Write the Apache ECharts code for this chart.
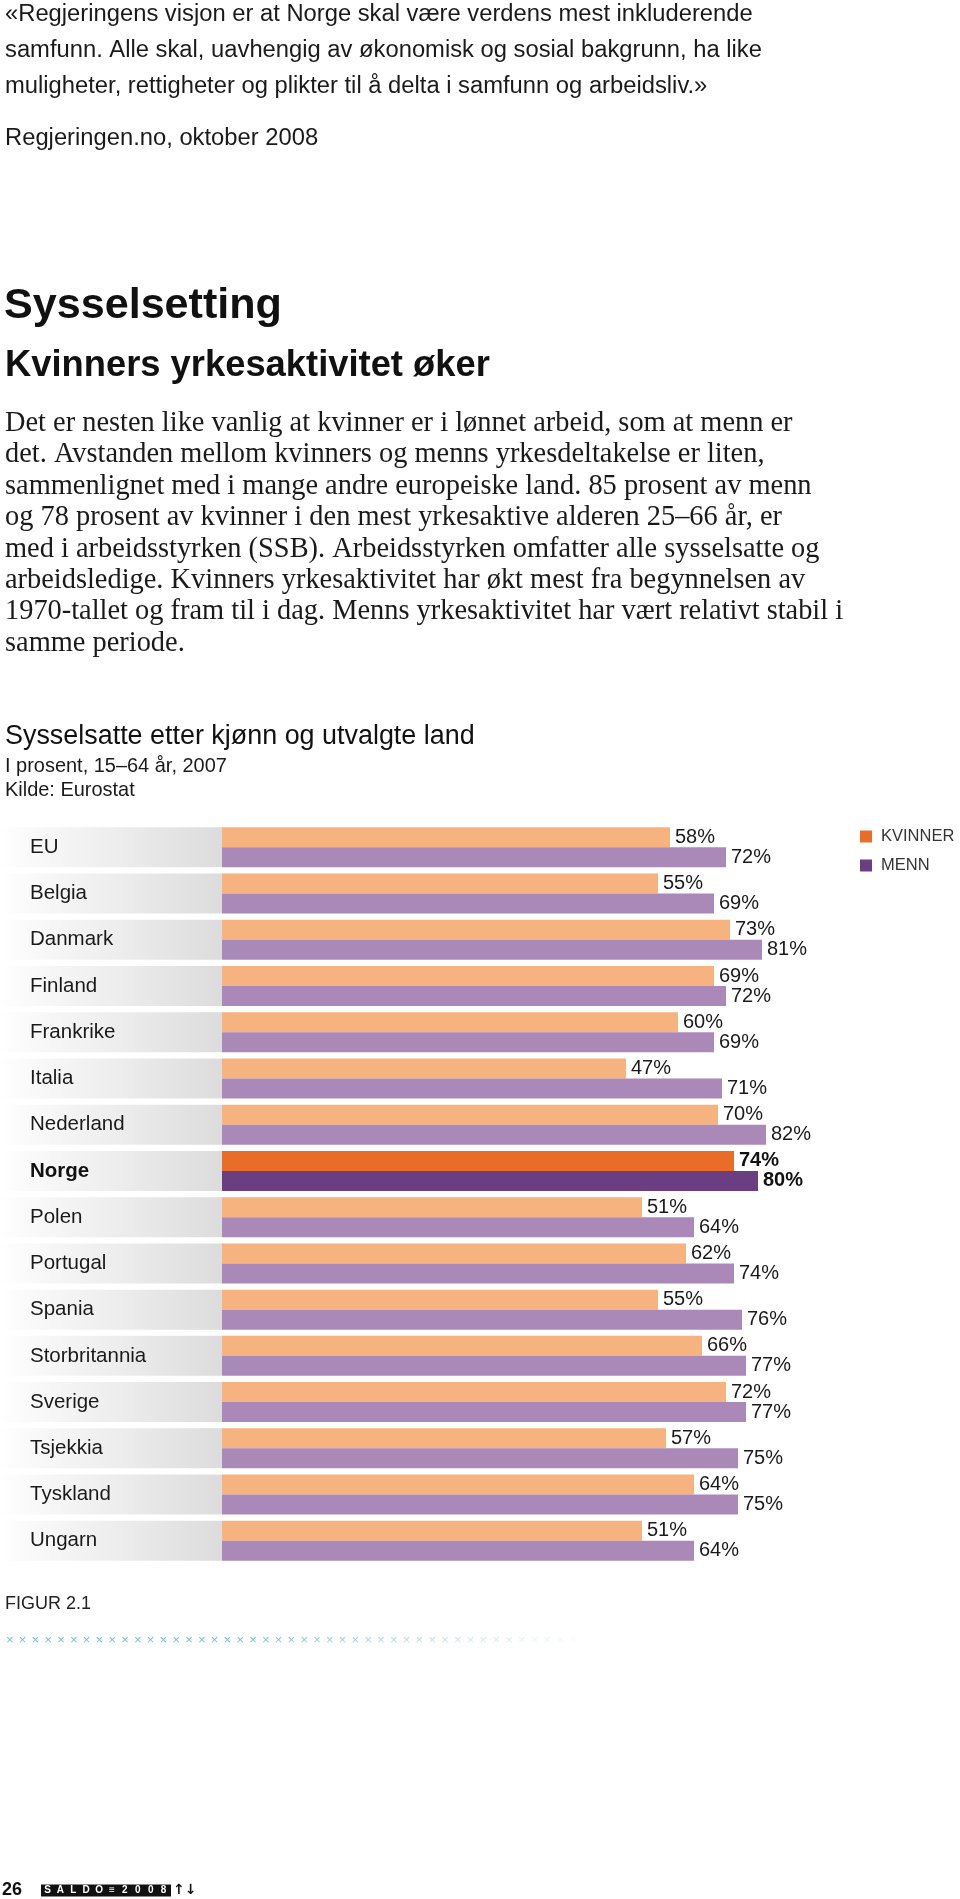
<!DOCTYPE html>
<html>
<head>
<meta charset="utf-8">
<script src="https://cdn.jsdelivr.net/npm/echarts@6/dist/echarts.min.js"></script>
<style>
html,body{margin:0;padding:0;background:#ffffff;}
#c{width:960px;height:1899px;}
</style>
</head>
<body>
<div id="c"></div>
<script>
// ---------- data ----------
const categories = ['EU','Belgia','Danmark','Finland','Frankrike','Italia','Nederland','Norge','Polen','Portugal','Spania','Storbritannia','Sverige','Tsjekkia','Tyskland','Ungarn'];
const kvinner = [58,55,73,69,60,47,70,74,51,62,55,66,72,57,64,51];
const menn    = [72,69,81,72,69,71,82,80,64,74,76,77,77,75,75,64];
const seriesNames = ['KVINNER','MENN'];
const highlight = 'Norge';

// ---------- texts ----------
const quoteLines = [
  '«Regjeringens visjon er at Norge skal være verdens mest inkluderende',
  'samfunn. Alle skal, uavhengig av økonomisk og sosial bakgrunn, ha like',
  'muligheter, rettigheter og plikter til å delta i samfunn og arbeidsliv.»'
];
const quoteSource = 'Regjeringen.no, oktober 2008';
const heading = 'Sysselsetting';
const subheading = 'Kvinners yrkesaktivitet øker';
const bodyLines = [
  'Det er nesten like vanlig at kvinner er i lønnet arbeid, som at menn er',
  'det. Avstanden mellom kvinners og menns yrkesdeltakelse er liten,',
  'sammenlignet med i mange andre europeiske land. 85 prosent av menn',
  'og 78 prosent av kvinner i den mest yrkesaktive alderen 25–66 år, er',
  'med i arbeidsstyrken (SSB). Arbeidsstyrken omfatter alle sysselsatte og',
  'arbeidsledige. Kvinners yrkesaktivitet har økt mest fra begynnelsen av',
  '1970-tallet og fram til i dag. Menns yrkesaktivitet har vært relativt stabil i',
  'samme periode.'
];
const chartTitle = 'Sysselsatte etter kjønn og utvalgte land';
const chartSubtitle = 'I prosent, 15–64 år, 2007';
const chartSource = 'Kilde: Eurostat';
const figureLabel = 'FIGUR 2.1';
const pageNumber = '26';
const footerMark = ['S','A','L','D','O','≡','2','0','0','8'];

// ---------- styling ----------
const SANS = "'Liberation Sans', Arial, sans-serif";
const SERIF = "'Liberation Serif', 'Times New Roman', serif";
const COL = {
  wLight:'#F6B27F', mLight:'#AA88B8',
  wDark:'#E96D28', mDark:'#6A3E80',
  text:'#1a1a1a'
};

const mctx = document.createElement('canvas').getContext('2d');
function fitSize(text, family, weight, target){
  mctx.font = weight + ' 100px ' + family;
  return 100 * target / mctx.measureText(text).width;
}
function txt(text, x, y, size, family, weight, color, opacity){
  return {type:'text', x:x, y:y, silent:true, z:10,
    style:{text:text, fontSize:size, fontFamily:family, fontWeight:weight,
      fill:color, align:'left', verticalAlign:'middle', opacity: opacity==null?1:opacity}};
}

const quoteSize = fitSize(quoteLines[0], SANS, 'normal', 748);
const headSize = fitSize(heading, SANS, 'bold', 278);
const subSize = fitSize(subheading, SANS, 'bold', 485);
const bodySize = fitSize(bodyLines[0], SERIF, 'normal', 788);
const ctSize = fitSize(chartTitle, SANS, 'normal', 470);
const csSize = fitSize(chartSubtitle, SANS, 'normal', 222);

const graphics = [];
const quoteY = [14.5, 50.8, 86];
quoteLines.forEach((l,i)=>graphics.push(txt(l, 5, quoteY[i], quoteSize, SANS, 'normal', COL.text)));
graphics.push(txt(quoteSource, 5, 138.5, quoteSize, SANS, 'normal', COL.text));
graphics.push(txt(heading, 4, 306, headSize, SANS, 'bold', '#111'));
graphics.push(txt(subheading, 5, 366, subSize, SANS, 'bold', '#111'));
bodyLines.forEach((l,i)=>graphics.push(txt(l, 5, 423.5 + 31.4*i, bodySize, SERIF, 'normal', COL.text)));
graphics.push(txt(chartTitle, 5, 736.7, ctSize, SANS, 'normal', '#111'));
graphics.push(txt(chartSubtitle, 5, 766.7, csSize, SANS, 'normal', COL.text));
graphics.push(txt(chartSource, 5, 790.8, csSize, SANS, 'normal', COL.text));
graphics.push(txt(figureLabel, 5, 1604.5, 18, SANS, 'normal', '#222'));
// decorative cross row
for (let i = 0; i < 45; i++) {
  const op = i < 18 ? 0.85 : Math.max(0, 0.85 * (1 - (i - 18) / 28));
  graphics.push({type:'text', x: 6 + i*12.8, y:1640, silent:true, z:10,
    style:{text:'×', fontSize:13, fontFamily:SANS, fill:'#59b6cb', opacity:op, align:'left', verticalAlign:'middle'}});
}
// footer
graphics.push(txt(pageNumber, 2, 1890.5, 18, SANS, 'bold', '#111'));
graphics.push({type:'rect', silent:true, z:10, shape:{x:41, y:1884.5, width:130, height:12}, style:{fill:'#111'}});
footerMark.forEach((ch,i)=>graphics.push({type:'text', x: 41 + 6.5 + i*12.9, y:1890.7, silent:true, z:11,
  style:{text:ch, fontSize:10, fontFamily:SANS, fontWeight:'bold', fill:'#fff', align:'center', verticalAlign:'middle'}}));
graphics.push(txt('↑↓', 173, 1890.5, 14, "'DejaVu Sans', sans-serif", 'bold', '#111'));

// ---------- chart ----------
const GRID_TOP = 824.2, GRID_H = 739.7;
const chart = echarts.init(document.getElementById('c'), null, {renderer:'canvas'});

function barData(values, dark){
  return values.map((v,i)=> categories[i] === highlight
    ? {value:v, itemStyle:{color:dark}, label:{fontWeight:'bold', color:'#111'}}
    : v);
}
const labelCfg = {show:true, position:'right', distance:5, formatter:'{c}%', fontSize:20, fontFamily:SANS, color:COL.text};

chart.setOption({
  animation:false,
  backgroundColor:'#ffffff',
  grid:[
    {left:222, top:GRID_TOP, width:616, height:GRID_H, containLabel:false},
    {left:0, top:GRID_TOP, width:222, height:GRID_H, containLabel:false}
  ],
  xAxis:[
    {gridIndex:0, type:'value', min:-54, max:100, startValue:-54, show:false},
    {gridIndex:1, type:'value', min:0, max:1, show:false}
  ],
  yAxis:[
    {gridIndex:0, type:'category', data:categories, inverse:true, show:false},
    {gridIndex:1, type:'category', data:categories, inverse:true, z:10,
      axisLine:{show:false}, axisTick:{show:false}, splitLine:{show:false},
      axisLabel:{inside:true, margin:30, fontSize:20.5, fontFamily:SANS, color:COL.text,
        formatter:(v)=> v === highlight ? '{b|' + v + '}' : v,
        rich:{b:{fontWeight:'bold', fontSize:20.5, fontFamily:SANS, color:'#111'}}}}
  ],
  legend:{
    orient:'vertical', left:860, top:828, padding:0, itemWidth:12, itemHeight:12, itemGap:12,
    icon:'rect', selectedMode:false,
    data:[{name:seriesNames[0], itemStyle:{color:COL.wDark}}, {name:seriesNames[1], itemStyle:{color:COL.mDark}}],
    textStyle:{fontSize:16.5, fontFamily:SANS, color:'#333', lineHeight:14, padding:[0,0,0,4]}
  },
  graphic:{elements:graphics},
  series:[
    {type:'bar', xAxisIndex:1, yAxisIndex:1, silent:true, barWidth:40,
      data:categories.map(()=>1),
      itemStyle:{color:new echarts.graphic.LinearGradient(0,0,1,0,[
        {offset:0, color:'rgba(235,235,235,0)'},
        {offset:0.5, color:'#eeeeee'},
        {offset:1, color:'#dcdcdc'}])},
      z:1},
    {name:seriesNames[0], type:'bar', xAxisIndex:0, yAxisIndex:0, barWidth:20, barGap:'0%',
      itemStyle:{color:COL.wLight}, label:labelCfg, data:barData(kvinner, COL.wDark)},
    {name:seriesNames[1], type:'bar', xAxisIndex:0, yAxisIndex:0, barWidth:20, barGap:'0%',
      itemStyle:{color:COL.mLight}, label:labelCfg, data:barData(menn, COL.mDark)}
  ]
});
</script>
</body>
</html>
